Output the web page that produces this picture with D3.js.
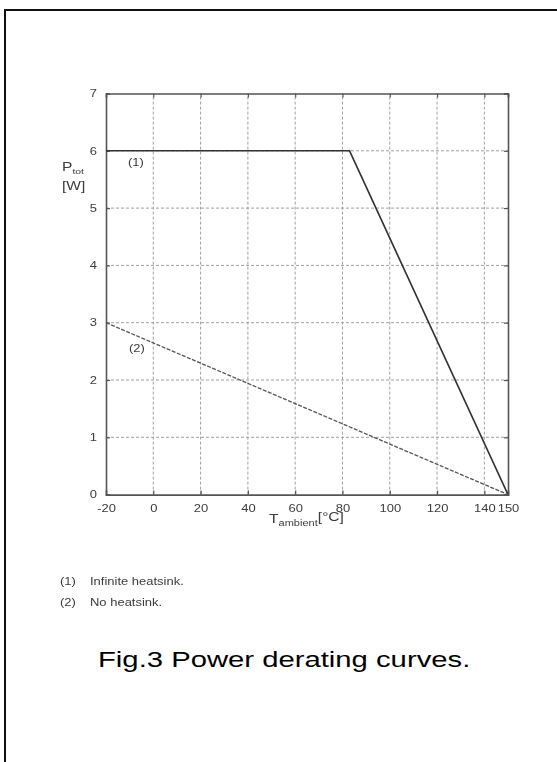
<!DOCTYPE html>
<html>
<head>
<meta charset="utf-8">
<script src="https://cdn.jsdelivr.net/npm/d3@7"></script>
<style>
  body { margin: 0; background: #fff; }
  text { font-family: "Liberation Sans", Arial, sans-serif; }
  .scan { fill: #3c3c3c; }
</style>
</head>
<body>
<div id="chart"></div>
<script>
// curve data
const xTicks = [-20, 0, 20, 40, 60, 80, 100, 120, 140, 150];
const yTicks = [0, 1, 2, 3, 4, 5, 6, 7];
const infiniteT = [-20, 83, 150];
const infiniteP = [6, 6, 0];
const noSinkT = [-20, 150];
const noSinkP = [3, 0];
const legendKeys = ["(1)", "(2)"];
const legendNames = ["Infinite heatsink.", "No heatsink."];

const W = 557, H = 762;
const SX = 1.3; // the scan is stretched sideways, so is its lettering

const svg = d3.select("#chart").append("svg")
    .attr("width", W)
    .attr("height", H);

svg.append("defs").append("filter").attr("id", "soft")
  .append("feGaussianBlur").attr("stdDeviation", 0.5);

// page frame (left + top edges only)
svg.append("path")
    .attr("d", `M5,${H} V10 H${W}`)
    .attr("fill", "none")
    .attr("stroke", "#111")
    .attr("stroke-width", 2);

const x = d3.scaleLinear().domain([-20, 150]).range([106, 508]);
const y = d3.scaleLinear().domain([0, 7]).range([494.6, 93.5]);

const plot = svg.append("g").attr("filter", "url(#soft)");

// stretched text helper
function sText(parent, px, py, size, str, anchor) {
  return parent.append("g")
      .attr("transform", `translate(${px},${py}) scale(${SX},1)`)
    .append("text")
      .attr("class", "scan")
      .attr("font-size", size)
      .attr("text-anchor", anchor || "start")
      .text(str);
}

// dotted grid
plot.selectAll(".vgrid")
  .data(xTicks.filter(d => d > -20 && d < 150))
  .enter().append("line")
    .attr("x1", d => x(d)).attr("x2", d => x(d))
    .attr("y1", y(0)).attr("y2", y(7))
    .attr("stroke", "#a0a0a0")
    .attr("stroke-width", 1)
    .attr("stroke-dasharray", "3,2");

plot.selectAll(".hgrid")
  .data(yTicks.filter(d => d > 0 && d < 7))
  .enter().append("line")
    .attr("x1", x(-20)).attr("x2", x(150))
    .attr("y1", d => y(d)).attr("y2", d => y(d))
    .attr("stroke", "#a0a0a0")
    .attr("stroke-width", 1)
    .attr("stroke-dasharray", "3,2");

// axes with inward ticks
const axisStyle = g => {
  g.select(".domain").attr("stroke", "#555").attr("stroke-width", 1.6);
  g.selectAll(".tick line").attr("stroke", "#555").attr("stroke-width", 1.2);
  g.selectAll("text").attr("class", "scan").attr("font-size", 10).attr("font-family", null);
};

plot.append("g")
    .attr("transform", `translate(${x(-20)},0)`)
    .call(d3.axisLeft(y).tickValues(yTicks).tickFormat(d => String(d)).tickSize(-4).tickPadding(9))
    .call(axisStyle)
    .call(g => g.selectAll("text").attr("x", -9 / SX).attr("transform", `scale(${SX},1)`));

plot.append("g")
    .attr("transform", `translate(0,${y(0)})`)
    .call(d3.axisBottom(x).tickValues(xTicks).tickFormat(d => String(d)).tickSize(-4).tickPadding(10))
    .call(axisStyle)
    .call(g => g.selectAll("text").attr("transform", `scale(${SX},1)`));

plot.append("g")
    .attr("transform", `translate(0,${y(7)})`)
    .call(d3.axisTop(x).tickValues(xTicks).tickFormat("").tickSize(-4))
    .call(axisStyle);

plot.append("g")
    .attr("transform", `translate(${x(150)},0)`)
    .call(d3.axisRight(y).tickValues(yTicks).tickFormat("").tickSize(-4))
    .call(axisStyle);

// curves
const line = d3.line().x(d => x(d[0])).y(d => y(d[1]));

plot.append("path")
    .datum(d3.zip(infiniteT, infiniteP))
    .attr("d", line)
    .attr("fill", "none")
    .attr("stroke", "#333")
    .attr("stroke-width", 1.6);

plot.append("path")
    .datum(d3.zip(noSinkT, noSinkP))
    .attr("d", line)
    .attr("fill", "none")
    .attr("stroke", "#555")
    .attr("stroke-width", 1.3)
    .attr("stroke-dasharray", "4,1.5");

// curve labels
sText(plot, 128, y(5.74), 10, legendKeys[0]);
sText(plot, 129, y(2.49), 10, legendKeys[1]);

// axis titles
const yt = sText(plot, 62, 171, 12, "P");
yt.append("tspan").attr("font-size", 8).attr("dy", 3).text("tot");
sText(plot, 62, 190, 12, "[W]");

const xt = sText(plot, 269, 523, 12, "T");
xt.append("tspan").attr("font-size", 8.5).attr("dy", 3).text("ambient");
xt.append("tspan").attr("dy", -5).text("[°C]");

// legend
legendKeys.forEach((k, i) => {
  sText(plot, 60, 585 + i * 21, 10, k);
  sText(plot, 90, 585 + i * 21, 10, legendNames[i]);
});

// caption
svg.append("g")
    .attr("transform", `translate(98,667) scale(1.33,1)`)
  .append("text")
    .attr("font-size", 22)
    .attr("fill", "#000")
    .text("Fig.3 Power derating curves.");
</script>
</body>
</html>
